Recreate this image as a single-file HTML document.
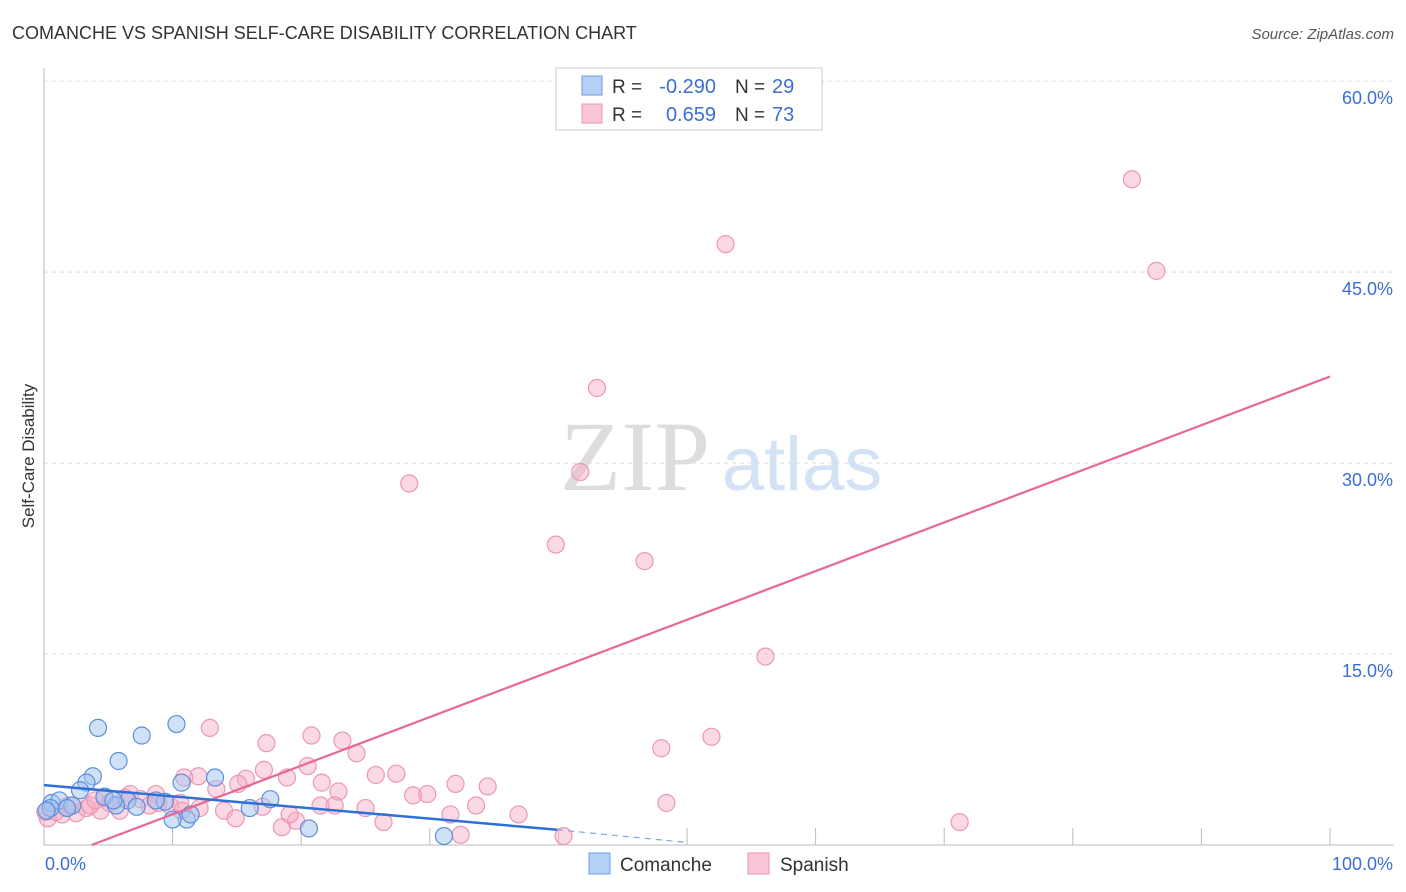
<!DOCTYPE html>
<html><head><meta charset="utf-8"><style>
body{margin:0;background:#fff;font-family:"Liberation Sans",sans-serif}
</style></head><body>
<svg width="1406" height="892" id="svg" style="display:block">
<text x="12" y="39" font-size="18" fill="#333">COMANCHE VS SPANISH SELF-CARE DISABILITY CORRELATION CHART</text>
<text x="1394" y="39" font-size="15" fill="#555" font-style="italic" text-anchor="end">Source: ZipAtlas.com</text>
<text x="34" y="456" font-size="17" fill="#333" transform="rotate(-90 34 456)" text-anchor="middle">Self-Care Disability</text>
<text x="635" y="490" font-size="100" fill="#ddd" font-family="Liberation Serif" text-anchor="middle">ZIP</text>
<text x="802" y="490" font-size="76" fill="#d3e2f5" text-anchor="middle">atlas</text>
<g id="grid"></g>
<g id="pts"></g>
<g id="lines"></g>
<g>
<rect x="556" y="68" width="266" height="62" fill="#fff" stroke="#ccc"/>
<rect x="582" y="76" width="20" height="19" fill="#b5d1f5" stroke="#6d9de0"/>
<rect x="582" y="104" width="20" height="19" fill="#f9c6d6" stroke="#eb94b0"/>
<text x="612" y="93" font-size="19" fill="#333">R =</text>
<text x="716" y="93" font-size="20" fill="#3a6fd0" text-anchor="end">-0.290</text>
<text x="735" y="93" font-size="19" fill="#333">N =</text>
<text x="772" y="93" font-size="20" fill="#3a6fd0">29</text>
<text x="612" y="121" font-size="19" fill="#333">R =</text>
<text x="716" y="121" font-size="20" fill="#3a6fd0" text-anchor="end">0.659</text>
<text x="735" y="121" font-size="19" fill="#333">N =</text>
<text x="772" y="121" font-size="20" fill="#3a6fd0">73</text>
</g>
<g>
<rect x="589" y="853" width="21" height="21" fill="#b5d1f5" stroke="#6d9de0"/>
<text x="620" y="871" font-size="19" fill="#333">Comanche</text>
<rect x="748" y="853" width="21" height="21" fill="#f9c6d6" stroke="#eb94b0"/>
<text x="780" y="871" font-size="19" fill="#333">Spanish</text>
</g>
</svg>
<script>
const blueX=[4.2,7.6,10.3,5.8,3.8,3.3,13.3,17.6,16.0,10.7,11.1,10.0,20.6,31.1,2.8,4.7,6.5,7.2,9.4,0.6,1.2,2.2,5.6,0.5,1.8,0.2,11.4,5.4,8.7];
const blueY=[9.2,8.6,9.5,6.6,5.4,4.9,5.3,3.6,2.9,4.9,2.0,2.0,1.3,0.7,4.3,3.8,3.5,3.0,3.4,3.3,3.5,3.1,3.1,2.9,2.9,2.7,2.4,3.5,3.5];
const pinkX=[84.6,53.0,86.5,43.0,28.4,41.7,39.8,46.7,56.1,12.9,51.9,48.0,20.8,23.2,17.3,24.3,17.1,20.5,12.0,10.9,15.7,15.1,25.8,27.4,18.9,21.6,13.4,8.7,6.7,22.9,32.0,34.5,28.7,29.8,8.9,14.0,14.9,17.0,21.5,22.6,25.0,33.6,48.4,36.9,31.6,26.4,19.6,18.5,32.4,40.4,71.2,19.1,4.4,1.4,2.5,0.3,0.9,3.3,5.1,7.5,9.8,12.1,8.2,5.9,3.6,2.0,0.1,10.7,4.0,6.3,4.7,1.7,10.6];
const pinkY=[52.3,47.2,45.1,35.9,28.4,29.3,23.6,22.3,14.8,9.2,8.5,7.6,8.6,8.2,8.0,7.2,5.9,6.2,5.4,5.3,5.2,4.8,5.5,5.6,5.3,4.9,4.4,4.0,4.0,4.2,4.8,4.6,3.9,4.0,3.3,2.7,2.1,3.0,3.1,3.1,2.9,3.1,3.3,2.4,2.4,1.8,1.9,1.4,0.8,0.7,1.8,2.4,2.7,2.4,2.5,2.1,2.6,2.9,3.3,3.6,3.1,2.9,3.1,2.7,3.1,3.1,2.6,2.7,3.5,3.7,3.7,3.0,3.3];
const yTicks=[15,30,45,60];
const pinkTrend=[[3.7,0],[100,36.8]];
const blueTrend=[[0,4.7],[39.9,1.2]];
const blueDash=[[39.9,1.2],[50,0.2]];
const NS='http://www.w3.org/2000/svg';
const sx=v=>44+v*12.86, sy=v=>845-v*12.73;
function mk(t,a,p){const e=document.createElementNS(NS,t);for(const k in a)e.setAttribute(k,a[k]);p.appendChild(e);return e;}
const g=document.getElementById('grid');
yTicks.forEach(t=>{
 const l=mk('line',{x1:44,x2:1394,y1:sy(t),y2:sy(t),stroke:'#ddd','stroke-dasharray':'4,4'},g);
 
 
 const tx=mk('text',{x:1393,y:sy(t)+23,'font-size':18,fill:'#3a6fd0','text-anchor':'end'},g);
 tx.textContent=t.toFixed(1)+'%';
 
 
});
mk('line',{x1:44,x2:44,y1:68,y2:845,stroke:'#bbb'},g);
mk('line',{x1:44,x2:1394,y1:845,y2:845,stroke:'#bbb'},g);
for(let i=1;i<=10;i++){mk('line',{x1:sx(i*10),x2:sx(i*10),y1:828,y2:845,stroke:'#bbb'},g);}
const a=mk('text',{x:45,y:870,'font-size':18,fill:'#3a6fd0'},g);a.textContent='0.0%';


const b=mk('text',{x:1393,y:870,'font-size':18,fill:'#3a6fd0','text-anchor':'end'},g);b.textContent='100.0%';


const P=document.getElementById('pts');
pinkX.forEach((x,i)=>{const c=mk('circle',{cx:sx(x),cy:sy(pinkY[i]),r:8.5,fill:'rgba(246,170,195,0.45)',stroke:'#ec97b3','stroke-width':1.2},P);
 
 });
blueX.forEach((x,i)=>{const c=mk('circle',{cx:sx(x),cy:sy(blueY[i]),r:8.5,fill:'rgba(160,195,240,0.5)',stroke:'#5d8fdb','stroke-width':1.2},P);
 
 });
const L=document.getElementById('lines');
const pl=mk('line',{x1:sx(pinkTrend[0][0]),y1:sy(pinkTrend[0][1]),x2:sx(pinkTrend[1][0]),y2:sy(pinkTrend[1][1]),stroke:'#e8679a','stroke-width':2.2},L);


const bl=mk('line',{x1:sx(blueTrend[0][0]),y1:sy(blueTrend[0][1]),x2:sx(blueTrend[1][0]),y2:sy(blueTrend[1][1]),stroke:'#2f6fd6','stroke-width':2.5},L);


const bd=mk('line',{x1:sx(blueDash[0][0]),y1:sy(blueDash[0][1]),x2:sx(blueDash[1][0]),y2:sy(blueDash[1][1]),stroke:'#7fa5e0','stroke-width':1.2,'stroke-dasharray':'6,5'},L);


</script>
</body></html>
